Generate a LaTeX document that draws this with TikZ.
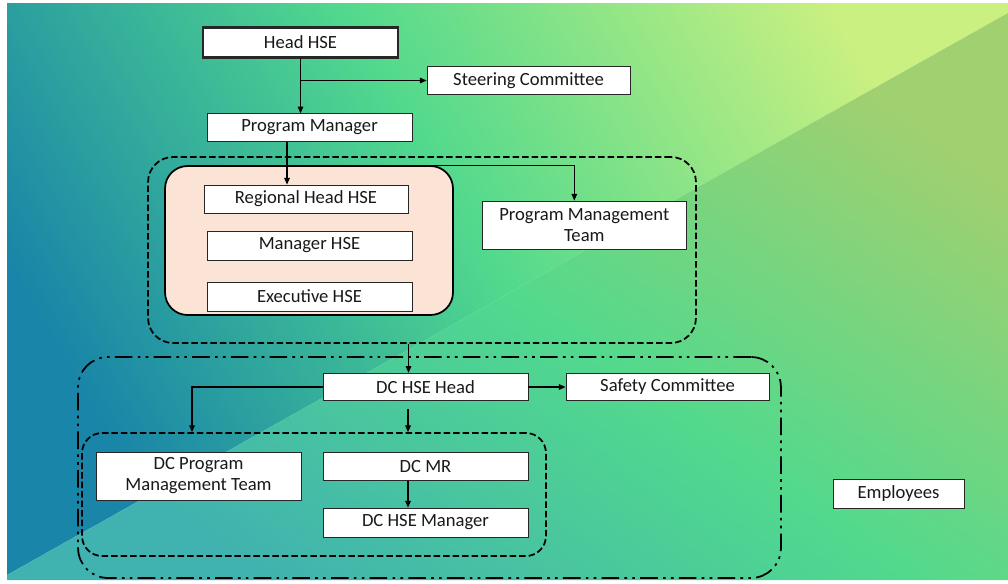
\documentclass[tikz,border=0pt]{standalone}
\usepackage{fontspec}
\setmainfont{Carlito}
\usetikzlibrary{arrows.meta}

\definecolor{bgblue}{HTML}{1985A8}
\definecolor{bgteal}{HTML}{40B2B0}
\definecolor{bggreen}{HTML}{52D98D}
\definecolor{bglime}{HTML}{C9F081}
\definecolor{bgolive}{HTML}{A0D070}
\definecolor{peach}{HTML}{FBE4D6}

\begin{document}
\begin{tikzpicture}[x=0.02cm, y=-0.02cm,
    box/.style={draw=black!85, line width=0.5pt, fill=white, inner sep=1pt,
        minimum width=4.1cm, minimum height=0.55cm, align=center,
        text=black!90, font=\fontsize{10.6}{12}\selectfont},
    link/.style={line width=0.6pt, -{Triangle[length=3.8pt,width=3.2pt]}},
    group/.style={draw=black, line width=1pt, inner sep=0pt},
    dashline/.style={dash pattern=on 3.7pt off 1.7pt},
    dotdashline/.style={dash pattern=on 10pt off 3pt on 1.5pt off 3pt on 1.5pt off 3pt}]

    % background
    \fill[white] (0,0) rectangle (1008,583);
    \shade[bottom color=bgblue, top color=bglime, middle color=bggreen, shading angle=-60]
        (7,3) -- (1008,3) -- (1008,13) -- (7,575) -- cycle;
    \shade[bottom color=bgteal, top color=bgolive, middle color=bggreen, shading angle=-35]
        (7,575) -- (1008,13) -- (1008,580) -- (7,580) -- cycle;

    % groups
    \node[group, dashline, rounded corners=0.5cm, minimum width=10.96cm, minimum height=3.72cm] (pmo) at (422,250) {};
    \node[group, fill=peach, rounded corners=0.45cm, minimum width=5.76cm, minimum height=2.98cm] (regional) at (309,240.5) {};
    \node[group, dotdashline, rounded corners=0.6cm, minimum width=14.06cm, minimum height=4.42cm] (dcunit) at (429.5,467.5) {};
    \node[group, dashline, rounded corners=0.4cm, minimum width=9.28cm, minimum height=2.46cm] (dcteam) at (314,494.5) {};

    % boxes
    \node[box, line width=1.3pt, minimum width=3.9cm, minimum height=0.6cm] (head) at (300.5,42.5) {Head HSE};
    \node[box, minimum width=4.06cm] (steer) at (528.5,80.5) {Steering Committee};
    \node[box] (pm) at (309.5,127.5) {Program Manager};
    \node[box, minimum width=4.08cm, minimum height=0.56cm] (rhead) at (306,199) {Regional Head HSE};
    \node[box, minimum height=0.58cm] (mhse) at (309.5,245.5) {Manager HSE};
    \node[box, minimum height=0.58cm] (ehse) at (309.5,296.5) {Executive HSE};
    \node[box, minimum width=4.07cm, minimum height=0.96cm] (pmt) at (584.3,225) {Program Management\\Team};
    \node[box] (dchead) at (425.5,387) {DC HSE Head};
    \node[box, minimum width=4.06cm] (safety) at (667.5,387) {Safety Committee};
    \node[box, minimum height=0.96cm] (dcpmt) at (198.5,476) {DC Program\\Management Team};
    \node[box] (dcmr) at (425.5,466.5) {DC MR};
    \node[box, minimum height=0.58cm] (dchsem) at (425.5,522.5) {DC HSE Manager};
    \node[box, minimum width=2.62cm, minimum height=0.58cm] (emp) at (898.5,493.5) {Employees};

    % connectors
    \coordinate (pmdrop) at ([xshift=-0.45cm]pm.south);
    \coordinate (pmtin) at ([xshift=-0.2cm]pmt.north);
    \coordinate (pmoout) at ([xshift=-0.27cm]pmo.south);
    \coordinate (dcdrop) at ([xshift=-0.35cm,yshift=-0.16cm]dchead.south);
    \coordinate (dcleft) at ([xshift=-0.13cm]dcpmt.north);
    \draw[link] (head.south) -- (head.south |- pm.north);
    \draw[link] (head.south |- steer.west) -- (steer.west);
    \draw[link] (pmdrop) -- (pmdrop |- rhead.north);
    \draw[link] (pmdrop |- regional.north) -| (pmtin);
    \draw[link] (pmoout) -- (pmoout |- dchead.north);
    \draw[link] (dchead.east) -- (safety.west);
    \draw[link] (dchead.west) -| (dcleft |- dcteam.north);
    \draw[link] (dcdrop) -- (dcdrop |- dcteam.north);
    \draw[link] ([xshift=-0.35cm]dcmr.south) -- ([xshift=-0.35cm]dchsem.north);
\end{tikzpicture}
\end{document}
